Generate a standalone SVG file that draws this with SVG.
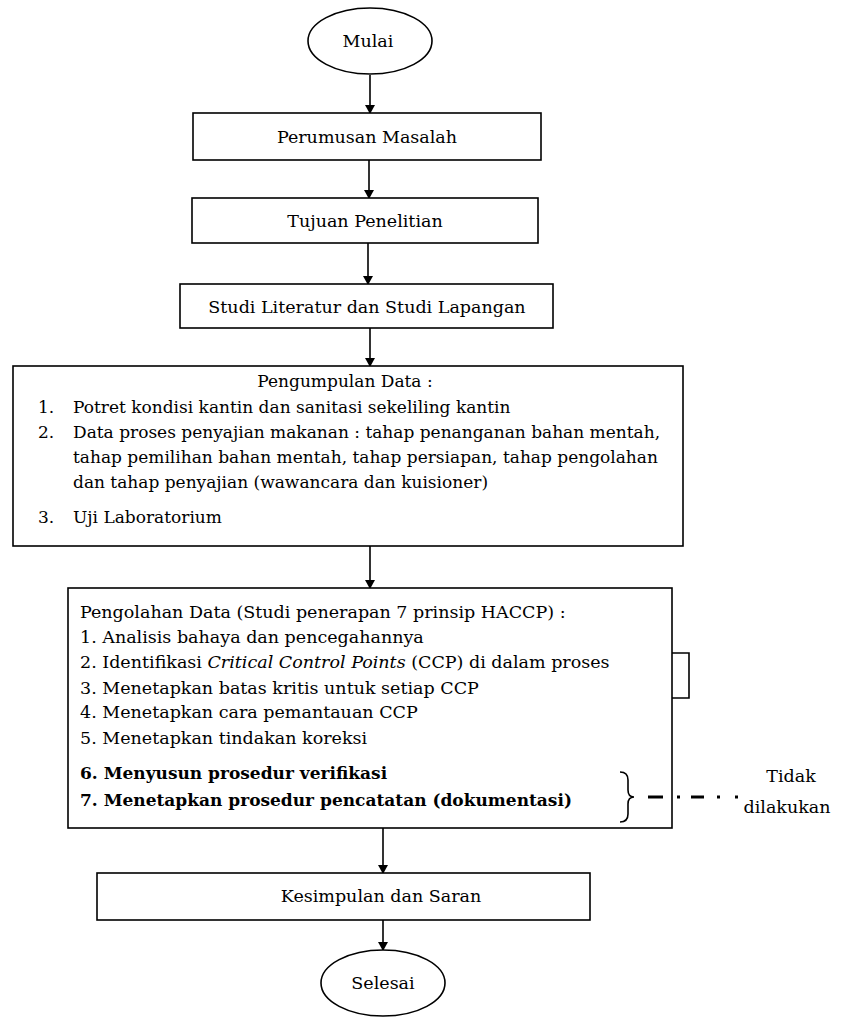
<svg xmlns="http://www.w3.org/2000/svg" width="841" height="1021" viewBox="0 0 841 1021">
<style>
  .box { fill: #ffffff; stroke: #000000; stroke-width: 1.6; }
  .t { font-family: "DejaVu Serif", "Liberation Serif", serif; font-size: 17.5px; fill: #000000; }
  .l { font-size: 17px; }
  .c { text-anchor: middle; }
  .b { font-weight: bold; }
  .conn { stroke: #000000; stroke-width: 1.6; fill: none; }
  .dash { stroke: #000000; stroke-width: 3; fill: none; }
</style>
<defs>
  <marker id="arr" markerWidth="10" markerHeight="10" refX="8" refY="5" orient="auto" markerUnits="userSpaceOnUse">
    <path d="M0,0 L9,5 L0,10 Z" fill="#000000"/>
  </marker>
</defs>
<rect width="841" height="1021" fill="#ffffff"/>

<g id="connectors">
  <line class="conn" x1="370" y1="75" x2="370" y2="113" marker-end="url(#arr)"/>
  <line class="conn" x1="369" y1="160" x2="369" y2="198" marker-end="url(#arr)"/>
  <line class="conn" x1="368" y1="243" x2="368" y2="284" marker-end="url(#arr)"/>
  <line class="conn" x1="370" y1="328" x2="370" y2="366" marker-end="url(#arr)"/>
  <line class="conn" x1="370" y1="546" x2="370" y2="588" marker-end="url(#arr)"/>
  <line class="conn" x1="383" y1="828" x2="383" y2="873" marker-end="url(#arr)"/>
  <line class="conn" x1="383" y1="920" x2="383" y2="950" marker-end="url(#arr)"/>
</g>

<g id="mulai">
  <ellipse class="box" cx="370" cy="41" rx="62" ry="33"/>
  <text class="t c" x="368" y="47">Mulai</text>
</g>

<g id="perumusan">
  <rect class="box" x="193" y="113" width="348" height="47"/>
  <text class="t c" x="367" y="143">Perumusan Masalah</text>
</g>

<g id="tujuan">
  <rect class="box" x="192" y="198" width="346" height="45"/>
  <text class="t c" x="365" y="227">Tujuan Penelitian</text>
</g>

<g id="studi">
  <rect class="box" x="180" y="284" width="373" height="44"/>
  <text class="t c" x="367" y="313">Studi Literatur dan Studi Lapangan</text>
</g>

<g id="pengumpulan">
  <rect class="box" x="13" y="366" width="670" height="180"/>
  <text class="t l c" x="345" y="387">Pengumpulan Data :</text>
  <text class="t l" x="38" y="413">1.</text>
  <text class="t l" x="73" y="413">Potret kondisi kantin dan sanitasi sekeliling kantin</text>
  <text class="t l" x="38" y="438">2.</text>
  <text class="t l" x="73" y="438">Data proses penyajian makanan : tahap penanganan bahan mentah,</text>
  <text class="t l" x="73" y="463">tahap pemilihan bahan mentah, tahap persiapan, tahap pengolahan</text>
  <text class="t l" x="73" y="488">dan tahap penyajian (wawancara dan kuisioner)</text>
  <text class="t l" x="38" y="523">3.</text>
  <text class="t l" x="73" y="523">Uji Laboratorium</text>
</g>

<g id="pengolahan">
  <rect class="box" x="68" y="588" width="604" height="240"/>
  <text class="t" x="80" y="618">Pengolahan Data (Studi penerapan 7 prinsip HACCP) :</text>
  <text class="t" x="80" y="643">1.  Analisis bahaya dan pencegahannya</text>
  <text class="t" x="80" y="668">2.  Identifikasi <tspan font-style="italic">Critical Control Points</tspan> (CCP) di dalam proses</text>
  <text class="t" x="80" y="694">3.  Menetapkan batas kritis untuk setiap CCP</text>
  <text class="t" x="80" y="718">4.  Menetapkan cara pemantauan CCP</text>
  <text class="t" x="80" y="744">5.  Menetapkan tindakan koreksi</text>
  <text class="t l b" x="80" y="779">6.  Menyusun prosedur verifikasi</text>
  <text class="t l b" x="80" y="806">7.  Menetapkan prosedur pencatatan (dokumentasi)</text>
</g>

<g id="bracket">
  <path class="conn" d="M672,653 H689 V698 H672" stroke-width="1.4"/>
</g>

<g id="brace">
  <path class="conn" stroke-width="1.4" d="M620,772 Q628,772 628,780 L628,790 Q628,797 634,797 Q628,797 628,804 L628,814 Q628,822 620,822"/>
</g>

<g id="dashline">
  <line class="dash" x1="648" y1="797" x2="663" y2="797"/>
  <line class="dash" x1="677" y1="797" x2="680" y2="797"/>
  <line class="dash" x1="691" y1="797" x2="704" y2="797"/>
  <line class="dash" x1="717" y1="797" x2="720" y2="797"/>
  <line class="dash" x1="735" y1="797" x2="738" y2="797"/>
</g>

<g id="tidak">
  <text class="t c" x="791" y="782" font-size="14">Tidak</text>
  <text class="t c" x="787" y="813" font-size="14">dilakukan</text>
</g>

<g id="kesimpulan">
  <rect class="box" x="97" y="873" width="493" height="47"/>
  <text class="t c" x="381" y="902">Kesimpulan dan Saran</text>
</g>

<g id="selesai">
  <ellipse class="box" cx="383" cy="983" rx="62" ry="33"/>
  <text class="t c" x="383" y="989">Selesai</text>
</g>
</svg>
